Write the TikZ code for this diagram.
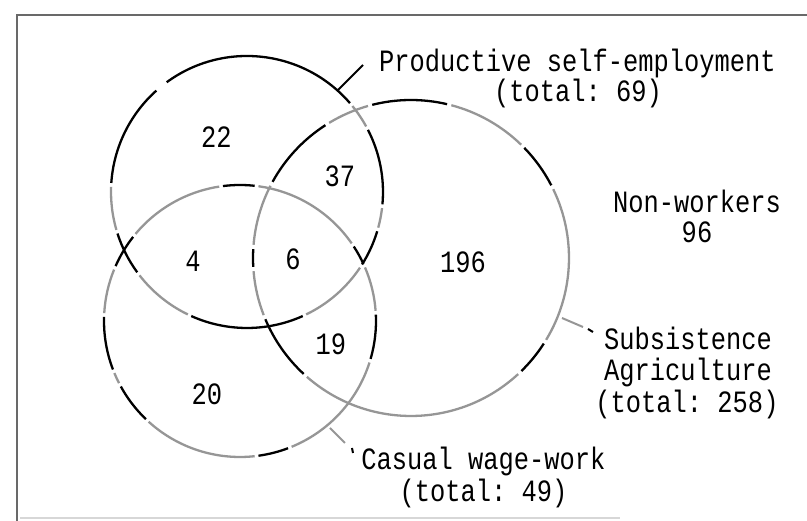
\documentclass[tikz,border=0pt]{standalone}
\usepackage{fontspec}
\setmonofont[FakeStretch=0.82]{Liberation Mono}
\definecolor{cgray}{RGB}{150,150,150}
\definecolor{fgray}{RGB}{105,105,105}
\definecolor{lgray}{RGB}{215,215,215}
\newcommand\vennsegs[3]{%
  \foreach \sa/\sb/\col in {#3} {%
    \draw[\col] (#1) ++(\sa+0.8:#2) arc[start angle=\sa+0.8, end angle=\sb-0.8, radius=#2];}}
\begin{document}
\begin{tikzpicture}[x=1pt,y=1pt,
  blk/.style={draw=black,line width=2.3pt},
  gry/.style={draw=cgray,line width=2.3pt},
  lbl/.style={anchor=base,inner sep=0pt,font=\ttfamily\fontsize{31}{31}\selectfont},
  lead/.style={line width=2pt}]
\useasboundingbox (0,0) rectangle (807,521);
% frame
\coordinate (fbl) at (17,0);
\coordinate (ftl) at (17,506);
\coordinate (ftr) at (807,506);
\draw[fgray,line width=2.5pt] (fbl) -- (ftl) -- (ftr);
\coordinate (bl) at (20,3);
\coordinate (br) at (620,3);
\draw[lgray,line width=1.5pt] (bl) -- (br);
% circle centres
\coordinate (c1) at (247,329);
\coordinate (c2) at (240,200);
\coordinate (c3) at (411,263);
% productive self-employment
\vennsegs{c1}{136}{-163/-143/blk, -143/-115/gry, -115/-65/blk, -65/-33/gry, -33/-16/blk, -16/-6/gry, -6/28/blk, 28/40/gry, 40/127/blk, 131/177/blk, 177/197/gry}
% casual wage-work
\vennsegs{c2}{136}{-152/-133/blk, -133/-83/gry, -83/-68.5/blk, -68.5/-17/gry, -17/3.5/blk, 3.5/24/gry, 24/34/blk, 34/83/gry, 83/98/blk, 98/141/gry, 141/157/blk, 157/177.5/gry, 177.5/201.7/blk, 201.7/208/gry}
% subsistence agriculture
\vennsegs{c3}{158}{-46.5/-32/blk, -32/26.6/gry, 26.6/45/blk, 45/76/gry, 76/105/blk, 105/122/gry, 122/152/blk, 152/176/gry, 176/184/blk, 184/202/gry, 202/228/blk, 228/313.5/gry}
% leaders
\coordinate (p1) at (338,431);
\coordinate (p2) at (363,456);
\draw[black,lead] (p1) -- (p2);
\coordinate (s1) at (562,203);
\coordinate (s2) at (583,194);
\coordinate (s3) at (588,192);
\coordinate (s4) at (593,189);
\draw[cgray,lead] (s1) -- (s2);
\draw[black,lead] (s3) -- (s4);
\coordinate (w1) at (330,93);
\coordinate (w2) at (345,78);
\coordinate (w3) at (352,73);
\coordinate (w4) at (353,68);
\draw[cgray,lead] (w1) -- (w2);
\draw[black,lead] (w3) -- (w4);
% labels
\node[lbl] (pse1) at (577.5,449.5) {Productive self-employment};
\node[lbl] (pse2) at (578,419) {(total: 69)};
\node[lbl] (nw1) at (697,308) {Non-workers};
\node[lbl] (nw2) at (697,278) {96};
\node[lbl] (sa1) at (688,171) {Subsistence};
\node[lbl] (sa2) at (688,140) {Agriculture};
\node[lbl] (sa3) at (687,108) {(total: 258)};
\node[lbl] (cw1) at (483.5,51) {Casual wage-work};
\node[lbl] (cw2) at (483.5,19) {(total: 49)};
% region counts
\node[lbl] (n22) at (216.5,373) {22};
\node[lbl] (n37) at (340,334) {37};
\node[lbl] (n4) at (193,249) {4};
\node[lbl] (n6) at (293,251) {6};
\node[lbl] (n196) at (463,248) {196};
\node[lbl] (n19) at (331,166) {19};
\node[lbl] (n20) at (207,116) {20};
\end{tikzpicture}
\end{document}
